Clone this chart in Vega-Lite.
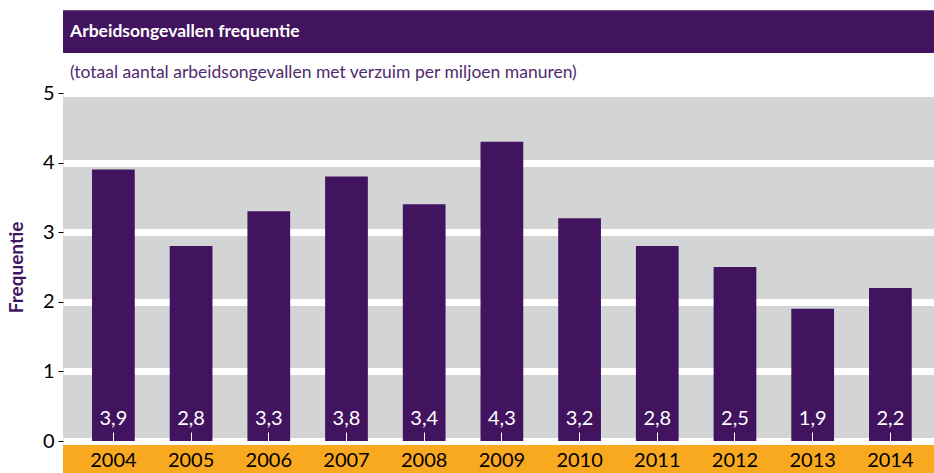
{
  "$schema": "https://vega.github.io/schema/vega-lite/v6.json",
  "width": 871,
  "height": 348,
  "autosize": {"type": "none"},
  "padding": {"left": 63, "top": 93, "right": 0, "bottom": 32},
  "background": "white",
  "config": {
    "font": "Lato",
    "view": {"fill": "#d3d4d6", "stroke": null},
    "locale": {"number": {"decimal": ",", "thousands": ".", "grouping": [3], "currency": ["€", ""]}}
  },
  "title": {
    "text": "Arbeidsongevallen frequentie",
    "subtitle": "(totaal aantal arbeidsongevallen met verzuim per miljoen manuren)",
    "anchor": "start",
    "frame": "group",
    "dx": 7,
    "offset": -71,
    "color": "white",
    "fontSize": 17.5,
    "fontWeight": "bold",
    "subtitleColor": "#4f2b6e",
    "subtitleFontSize": 17.5,
    "subtitlePadding": 23
  },
  "datasets": {
    "freq": [
      {"jaar": "2004", "waarde": 3.9},
      {"jaar": "2005", "waarde": 2.8},
      {"jaar": "2006", "waarde": 3.3},
      {"jaar": "2007", "waarde": 3.8},
      {"jaar": "2008", "waarde": 3.4},
      {"jaar": "2009", "waarde": 4.3},
      {"jaar": "2010", "waarde": 3.2},
      {"jaar": "2011", "waarde": 2.8},
      {"jaar": "2012", "waarde": 2.5},
      {"jaar": "2013", "waarde": 1.9},
      {"jaar": "2014", "waarde": 2.2}
    ]
  },
  "layer": [
    {
      "data": {"values": [{}]},
      "mark": {"type": "rect", "color": "#42145f"},
      "encoding": {
        "y": {"datum": 5.575, "type": "quantitative", "scale": {"domain": [0, 5], "nice": false}},
        "y2": {"datum": 6.19}
      }
    },
    {
      "data": {"values": [{}]},
      "mark": {"type": "rect", "color": "#f9a91f"},
      "encoding": {
        "y": {"datum": -0.057, "type": "quantitative"},
        "y2": {"datum": -0.5}
      }
    },
    {
      "data": {"name": "freq"},
      "mark": {"type": "bar", "color": "#42145f"},
      "encoding": {
        "x": {
          "field": "jaar",
          "type": "ordinal",
          "scale": {"paddingInner": 0.45, "paddingOuter": 0.33, "align": 0.566},
          "axis": {
            "title": null,
            "domain": false,
            "labelAngle": 0,
            "labelFontSize": 20,
            "labelColor": "black",
            "labelPadding": 18,
            "tickSize": -9,
            "tickColor": "white",
            "tickWidth": 1,
            "zindex": 1
          }
        },
        "y": {
          "field": "waarde",
          "type": "quantitative",
          "scale": {"domain": [0, 5], "nice": false},
          "axis": {
            "title": "Frequentie",
            "titleColor": "#42145f",
            "titleFontSize": 19,
            "titleFontWeight": "bold",
            "titlePadding": 16,
            "values": [0, 1, 2, 3, 4, 5],
            "format": "d",
            "domain": false,
            "tickColor": "black",
            "tickSize": 5,
            "labelPadding": 4,
            "labelFontSize": 20,
            "labelColor": "black",
            "grid": true,
            "gridColor": "white",
            "gridWidth": 7,
            "gridOpacity": 1
          }
        }
      }
    },
    {
      "data": {"name": "freq"},
      "mark": {"type": "text", "color": "white", "fontSize": 20, "baseline": "middle", "dy": -22},
      "encoding": {
        "x": {"field": "jaar", "type": "ordinal"},
        "y": {"datum": 0, "type": "quantitative"},
        "text": {"field": "waarde", "type": "quantitative", "format": ".1f"}
      }
    }
  ]
}
